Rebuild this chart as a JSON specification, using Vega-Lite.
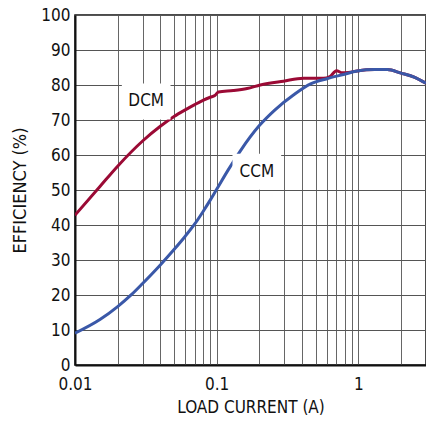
{
  "$schema": "https://vega.github.io/schema/vega-lite/v6.json",
  "width": 351,
  "height": 350,
  "autosize": {"type": "none"},
  "padding": {"left": 75, "top": 15, "right": 0, "bottom": 58},
  "background": "white",
  "config": {
    "view": {"stroke": "#111", "strokeWidth": 1.5},
    "font": "DejaVu Sans Condensed, Roboto, sans-serif"
  },
  "datasets": {
    "curves": [
      {"series": "DCM", "current": 0.01, "eff": 42.8},
      {"series": "DCM", "current": 0.015, "eff": 51.0},
      {"series": "DCM", "current": 0.02, "eff": 56.8},
      {"series": "DCM", "current": 0.03, "eff": 64.0},
      {"series": "DCM", "current": 0.04, "eff": 68.2},
      {"series": "DCM", "current": 0.05, "eff": 71.0},
      {"series": "DCM", "current": 0.06, "eff": 72.9},
      {"series": "DCM", "current": 0.07, "eff": 74.4},
      {"series": "DCM", "current": 0.08, "eff": 75.6},
      {"series": "DCM", "current": 0.09, "eff": 76.5},
      {"series": "DCM", "current": 0.097, "eff": 77.0},
      {"series": "DCM", "current": 0.103, "eff": 78.0},
      {"series": "DCM", "current": 0.131, "eff": 78.4},
      {"series": "DCM", "current": 0.164, "eff": 79.0},
      {"series": "DCM", "current": 0.203, "eff": 80.0},
      {"series": "DCM", "current": 0.296, "eff": 81.1},
      {"series": "DCM", "current": 0.41, "eff": 81.9},
      {"series": "DCM", "current": 0.566, "eff": 81.9},
      {"series": "DCM", "current": 0.63, "eff": 82.4},
      {"series": "DCM", "current": 0.7, "eff": 84.1},
      {"series": "DCM", "current": 0.77, "eff": 83.5},
      {"series": "DCM", "current": 0.85, "eff": 83.6},
      {"series": "DCM", "current": 0.98, "eff": 84.0},
      {"series": "DCM", "current": 1.3, "eff": 84.4},
      {"series": "DCM", "current": 1.6, "eff": 84.4},
      {"series": "DCM", "current": 2.0, "eff": 83.4},
      {"series": "DCM", "current": 2.5, "eff": 82.2},
      {"series": "DCM", "current": 3.0, "eff": 80.5},
      {"series": "CCM", "current": 0.01, "eff": 9.1},
      {"series": "CCM", "current": 0.015, "eff": 13.0},
      {"series": "CCM", "current": 0.02, "eff": 16.7},
      {"series": "CCM", "current": 0.025, "eff": 20.1},
      {"series": "CCM", "current": 0.03, "eff": 23.3},
      {"series": "CCM", "current": 0.04, "eff": 28.6},
      {"series": "CCM", "current": 0.05, "eff": 33.0},
      {"series": "CCM", "current": 0.06, "eff": 36.8},
      {"series": "CCM", "current": 0.07, "eff": 40.3},
      {"series": "CCM", "current": 0.08, "eff": 43.8},
      {"series": "CCM", "current": 0.09, "eff": 47.1},
      {"series": "CCM", "current": 0.1, "eff": 50.2},
      {"series": "CCM", "current": 0.12, "eff": 55.6},
      {"series": "CCM", "current": 0.147, "eff": 61.2},
      {"series": "CCM", "current": 0.2, "eff": 68.4},
      {"series": "CCM", "current": 0.258, "eff": 72.9},
      {"series": "CCM", "current": 0.35, "eff": 77.2},
      {"series": "CCM", "current": 0.46, "eff": 80.3},
      {"series": "CCM", "current": 0.6, "eff": 81.8},
      {"series": "CCM", "current": 0.785, "eff": 83.0},
      {"series": "CCM", "current": 0.98, "eff": 84.0},
      {"series": "CCM", "current": 1.3, "eff": 84.4},
      {"series": "CCM", "current": 1.6, "eff": 84.4},
      {"series": "CCM", "current": 2.0, "eff": 83.4},
      {"series": "CCM", "current": 2.5, "eff": 82.2},
      {"series": "CCM", "current": 3.0, "eff": 80.5}
    ],
    "labels": [
      {"label": "DCM", "current": 0.0318, "eff": 75.3},
      {"label": "CCM", "current": 0.192, "eff": 55.2}
    ]
  },
  "encoding": {
    "x": {
      "field": "current", "type": "quantitative",
      "scale": {"type": "log", "domain": [0.01, 3], "nice": false},
      "axis": {
        "title": "LOAD CURRENT (A)",
        "values": [0.01,0.02,0.03,0.04,0.05,0.06,0.07,0.08,0.09,0.1,0.2,0.3,0.4,0.5,0.6,0.7,0.8,0.9,1,2,3],
        "labelExpr": "datum.value == 0.01 ? '0.01' : datum.value == 0.1 ? '0.1' : datum.value == 1 ? '1' : ''",
        "labelFontSize": 17, "labelColor": "#111", "labelPadding": 11,
        "labelOverlap": false, "labelFlush": false,
        "ticks": false,
        "grid": true, "gridColor": "#666", "gridWidth": 1,
        "domainColor": "#111", "domainWidth": 2,
        "titleFontSize": 17, "titleFontWeight": "normal", "titleColor": "#111", "titlePadding": 7
      }
    },
    "y": {
      "field": "eff", "type": "quantitative",
      "scale": {"domain": [0, 100], "nice": false},
      "axis": {
        "title": "EFFICIENCY (%)",
        "values": [0,10,20,30,40,50,60,70,80,90,100],
        "labelFontSize": 17, "labelColor": "#111", "labelPadding": 5,
        "labelOverlap": false, "labelFlush": false,
        "ticks": false,
        "grid": true, "gridColor": "#555", "gridWidth": 1,
        "domainColor": "#111", "domainWidth": 2,
        "titleFontSize": 18, "titleFontWeight": "normal", "titleColor": "#111", "titlePadding": 11
      }
    }
  },
  "layer": [
    {
      "data": {"name": "curves"},
      "mark": {"type": "line", "strokeWidth": 3, "interpolate": "monotone", "clip": true},
      "encoding": {
        "color": {
          "field": "series", "type": "nominal",
          "scale": {"domain": ["DCM", "CCM"], "range": ["#9B0A35", "#3A58A8"]},
          "legend": null
        }
      }
    },
    {
      "data": {"name": "labels"},
      "mark": {"type": "point", "shape": "M-1.35,-1L1.35,-1L1.35,1L-1.35,1Z", "filled": true, "color": "white", "opacity": 1, "size": 1300}
    },
    {
      "data": {"name": "labels"},
      "mark": {"type": "text", "fontSize": 17, "color": "#111", "align": "center", "baseline": "middle"},
      "encoding": {
        "text": {"field": "label"}
      }
    }
  ]
}
